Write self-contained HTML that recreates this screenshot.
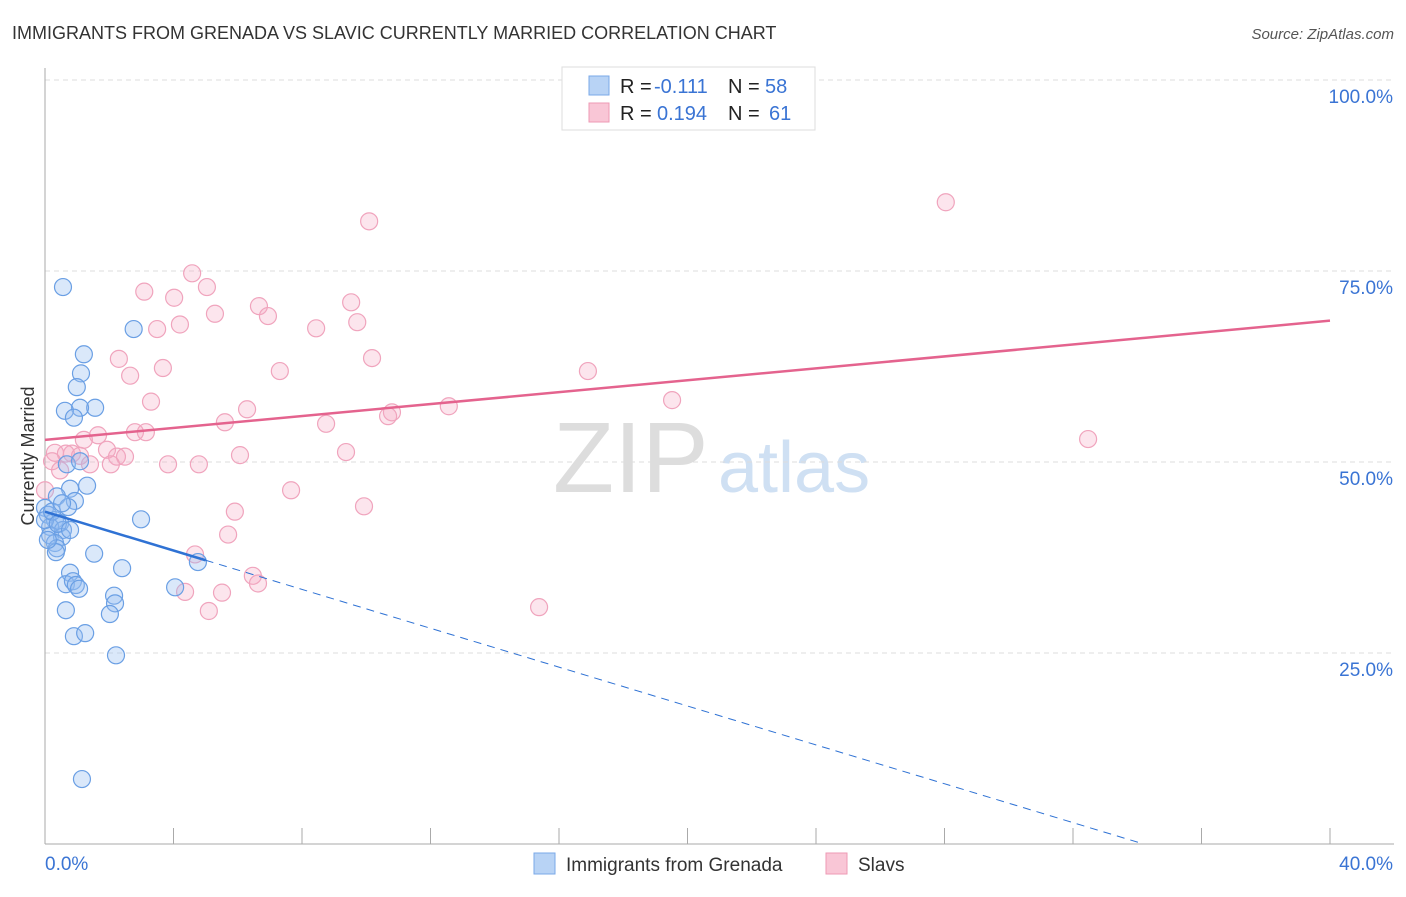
<!DOCTYPE html>
<html><head><meta charset="utf-8"><style>
body{margin:0;background:#fff;font-family:"Liberation Sans",sans-serif}
svg text{font-family:"Liberation Sans",sans-serif}
</style></head><body>
<svg width="1406" height="892" xmlns="http://www.w3.org/2000/svg">
<text x="12" y="39" font-size="18" fill="#333">IMMIGRANTS FROM GRENADA VS SLAVIC CURRENTLY MARRIED CORRELATION CHART</text>
<text x="1394" y="39" font-size="15" fill="#555" font-style="italic" text-anchor="end">Source: ZipAtlas.com</text>
<text x="34" y="456" font-size="18" fill="#333" text-anchor="middle" transform="rotate(-90 34 456)">Currently Married</text>
<text x="553" y="492" font-size="100" fill="#ddd" font-family="Liberation Serif">ZIP</text>
<text x="718" y="492" font-size="72" fill="#cfe0f3">atlas</text>
<g id="grid"></g><g id="axes"></g><g id="pts"></g><g id="lines"></g>
<g>
<rect x="562" y="67" width="253" height="63" fill="#fff" stroke="#ddd"/>
<rect x="589" y="76" width="20" height="19" fill="#b8d3f5" stroke="#7aa8e8"/>
<rect x="589" y="103" width="20" height="19" fill="#f9c6d6" stroke="#ee9ab4"/>
<text x="620" y="93" font-size="20" fill="#222">R =</text>
<text x="654" y="93" font-size="20" fill="#3a74d4">-0.111</text>
<text x="728" y="93" font-size="20" fill="#222">N =</text>
<text x="765" y="93" font-size="20" fill="#3a74d4">58</text>
<text x="620" y="120" font-size="20" fill="#222">R =</text>
<text x="657" y="120" font-size="20" fill="#3a74d4">0.194</text>
<text x="728" y="120" font-size="20" fill="#222">N =</text>
<text x="769" y="120" font-size="20" fill="#3a74d4">61</text>
</g>
<g>
<rect x="534" y="853" width="21" height="21" fill="#b8d3f5" stroke="#7aa8e8"/>
<text x="566" y="871" font-size="19" fill="#333">Immigrants from Grenada</text>
<rect x="826" y="853" width="21" height="21" fill="#f9c6d6" stroke="#ee9ab4"/>
<text x="858" y="871" font-size="19" fill="#333">Slavs</text>
</g>
</svg>
<script>
const yTicks=[25,50,75,100];
const xTickLabels=["0.0%","40.0%"];
const blueX=[0.56,2.76,1.21,1.12,0.99,1.56,1.09,0.62,0.9,0.68,1.09,1.31,0.78,0.37,0.93,0,0.72,0.09,0.31,0.47,0.16,0.56,0.16,0.53,0.31,0.37,0.34,1.53,2.99,2.4,0.78,0.65,0.87,0.96,1.06,2.15,2.18,2.02,0.65,4.05,4.76,0.9,1.25,2.21,1.15,0,0.22,0.09,0.4,0.53,0.78];
const blueY=[72.9,67.4,64.1,61.6,59.8,57.1,57.1,56.7,55.8,49.7,50.1,46.9,46.5,45.5,44.9,44,44.1,43.1,42.4,42,41.5,41.1,40.4,40.2,39.4,38.7,38.2,38,42.5,36.1,35.5,34,34.4,33.9,33.4,32.5,31.5,30.1,30.6,33.6,36.9,27.2,27.6,24.7,8.5,42.4,43.5,39.8,41.9,44.6,41.1];
const pinkX=[10.09,28.04,4.58,3.09,4.02,5.04,6.66,5.29,6.94,3.49,4.2,8.44,9.53,9.72,2.3,10.18,3.67,2.65,7.31,16.9,3.3,6.29,19.52,10.8,10.68,12.57,5.6,8.75,2.8,3.14,1.65,1.21,1.93,0.31,0.84,0.65,1.09,2.24,2.49,0.22,1.4,2.05,3.83,4.79,6.07,9.37,32.47,7.66,9.93,5.91,5.7,4.67,6.47,6.63,4.36,5.51,5.1,15.38,0,0.47];
const pinkY=[81.5,84,74.7,72.3,71.5,72.9,70.4,69.4,69.1,67.4,68,67.5,70.9,68.3,63.5,63.6,62.3,61.3,61.9,61.9,57.9,56.9,58.1,56.5,56,57.3,55.2,55,53.9,53.9,53.5,52.9,51.6,51.2,51.1,51.1,50.8,50.7,50.7,50.1,49.7,49.7,49.7,49.7,50.9,51.3,53,46.3,44.2,43.5,40.5,37.9,35.1,34.1,33,32.9,30.5,31,46.3,48.9];
const blueFit=[43.5,-1.272], pinkFit=[52.9,0.39];
const NS="http://www.w3.org/2000/svg";
const X=v=>45+v/40*1285, Y=v=>844-v*7.64;
function mk(p,t,a){const e=document.createElementNS(NS,t);for(const k in a)e.setAttribute(k,a[k]);p.appendChild(e);return e;}
const grid=document.getElementById('grid'),axes=document.getElementById('axes'),pts=document.getElementById('pts'),lines=document.getElementById('lines');
yTicks.forEach(t=>{
 const l=mk(grid,'line',{x1:45,x2:1394,y1:Y(t),y2:Y(t),stroke:'#ddd','stroke-dasharray':'5,4'});
 
 
 const tx=mk(grid,'text',{x:1393,y:Y(t)+23,'font-size':19,fill:'#3a74d4','text-anchor':'end'});
 tx.textContent=t.toFixed(1)+'%';
 
 
});
mk(axes,'line',{x1:45,x2:45,y1:68,y2:844,stroke:'#aaa'});
mk(axes,'line',{x1:45,x2:1394,y1:844,y2:844,stroke:'#aaa'});
for(let i=0;i<=10;i++){const tk=mk(axes,'line',{x1:X(i*4),x2:X(i*4),y1:828,y2:844,stroke:'#aaa'});
 
 }
const xl0=mk(axes,'text',{x:45,y:870,'font-size':19,fill:'#3a74d4'});xl0.textContent=xTickLabels[0];


const xl1=mk(axes,'text',{x:1393,y:870,'font-size':19,fill:'#3a74d4','text-anchor':'end'});xl1.textContent=xTickLabels[1];


pinkX.forEach((v,i)=>{const c=mk(pts,'circle',{cx:X(v),cy:Y(pinkY[i]),r:8.5,fill:'rgba(246,170,195,0.3)',stroke:'#f0a4bd','stroke-width':1.2});
 
 });
blueX.forEach((v,i)=>{const c=mk(pts,'circle',{cx:X(v),cy:Y(blueY[i]),r:8.5,fill:'rgba(150,190,240,0.35)',stroke:'#6a9fe4','stroke-width':1.2});
 
 });
const f=(fit,x)=>fit[0]+fit[1]*x;
const pl=mk(lines,'line',{x1:X(0),y1:Y(f(pinkFit,0)),x2:X(40),y2:Y(f(pinkFit,40)),stroke:'#e4638e','stroke-width':2.5});


const bl=mk(lines,'line',{x1:X(0),y1:Y(f(blueFit,0)),x2:X(5),y2:Y(f(blueFit,5)),stroke:'#2f72d4','stroke-width':2.5});


const xe=-blueFit[0]/blueFit[1];
const bd=mk(lines,'line',{x1:X(5),y1:Y(f(blueFit,5)),x2:X(xe),y2:Y(0),stroke:'#2f72d4','stroke-width':1,'stroke-dasharray':'8,6'});


</script>
</body></html>
